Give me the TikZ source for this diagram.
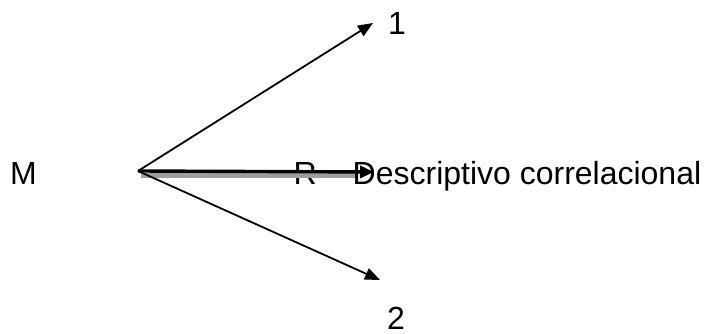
\documentclass[tikz,border=0pt]{standalone}
\usepackage{fontspec}
\setmainfont{Liberation Sans}
\usetikzlibrary{arrows.meta}
\begin{document}
\begin{tikzpicture}[x=1pt,y=-1pt,
  lbl/.style={inner sep=0pt,anchor=base west,font=\fontsize{32}{36}\selectfont},
  thinarrow/.style={line width=1.8pt,-{Triangle[length=15pt,width=12pt]}},
  mainarrow/.style={line width=3.4pt,-{Triangle[length=14pt,width=12pt]}},
  shadowline/.style={line width=4.5pt,draw=black!38}]
\useasboundingbox (0,0) rectangle (705,334);
\coordinate (O) at (138,171);
\coordinate (T1) at (373,23);
\coordinate (T2) at (380,280);
\coordinate (TM) at (374,172);
\coordinate (S0) at (141,175.5);
\coordinate (S1) at (358,175.5);
\node[lbl] (M) at (10,185) {M};
\node[lbl] (R) at (293.5,185) {R};
\node[lbl] (n1) at (388,35) {1};
\node[lbl] (n2) at (387,329) {2};
\draw[shadowline] (S0) -- (S1);
\draw[mainarrow] (O) -- (TM);
\draw[thinarrow] (O) -- (T1);
\draw[thinarrow] (O) -- (T2);
\node[lbl] (D) at (352.5,185) {Descriptivo correlacional};
\end{tikzpicture}
\end{document}
